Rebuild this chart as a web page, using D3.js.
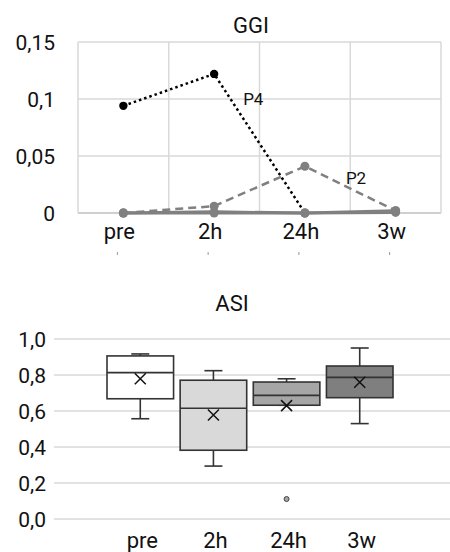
<!DOCTYPE html>
<html>
<head>
<meta charset="utf-8">
<script src="https://cdn.jsdelivr.net/npm/d3@7"></script>
<style>
  body { margin: 0; background: #fff; }
  text { font-family: Roboto, "Liberation Sans", sans-serif; fill: #111; }
</style>
</head>
<body>
<div id="d3-container"></div>
<script>
/**
 * DATA
 * */
const times = ["pre", "2h", "24h", "3w"];

// GGI line chart
const ggiTicks = [0, 0.05, 0.1, 0.15];
const ggiTickLabels = ["0", "0,05", "0,1", "0,15"];
const p4Values = [0.094, 0.122, 0, null];
const p2Values = [0, 0.006, 0.041, 0.002];
const otherA = [0, 0.001, 0, 0.002];
const otherB = [0, 0, 0, 0.0005];

// ASI box plot
const asiTicks = [0, 0.2, 0.4, 0.6, 0.8, 1.0];
const asiTickLabels = ["0,0", "0,2", "0,4", "0,6", "0,8", "1,0"];
const asiMin = [0.557, 0.294, 0.632, 0.530];
const asiQ1 = [0.668, 0.382, 0.632, 0.674];
const asiMedian = [0.813, 0.615, 0.687, 0.787];
const asiQ3 = [0.906, 0.771, 0.761, 0.850];
const asiMax = [0.917, 0.824, 0.779, 0.950];
const asiMean = [0.779, 0.578, 0.630, 0.760];
const asiOutliers = [[], [], [0.111], []];
const boxFills = ["#ffffff", "#d9d9d9", "#a6a6a6", "#7f7f7f"];

/**
 * SETUP
 * */
const width = 450, height = 552;
const svg = d3.select("#d3-container")
  .append("svg")
  .attr("width", width)
  .attr("height", height);

const grid = "#d9d9d9";

// ---------- GGI ----------
const x1 = d3.scaleBand().domain(times).range([78, 441]);
const y1 = d3.scaleLinear().domain([0, 0.15]).range([213, 42]);

const gTop = svg.append("g");

gTop.append("text")
  .attr("x", 251).attr("y", 33)
  .attr("text-anchor", "middle")
  .attr("font-size", 22)
  .text("GGI");

// horizontal gridlines
gTop.selectAll(".hgrid")
  .data(ggiTicks)
  .join("line")
  .attr("x1", 78).attr("x2", 441)
  .attr("y1", d => y1(d)).attr("y2", d => y1(d))
  .attr("stroke", d => d === 0 ? "#bfbfbf" : grid)
  .attr("stroke-width", 1.5);

// vertical gridlines at band edges
const edges = times.map(t => x1(t)).concat([x1.range()[1]]);
gTop.selectAll(".vgrid")
  .data(edges)
  .join("line")
  .attr("x1", d => d).attr("x2", d => d)
  .attr("y1", y1(0.15)).attr("y2", y1(0))
  .attr("stroke", grid)
  .attr("stroke-width", 1.5);

gTop.selectAll(".ylab")
  .data(ggiTicks)
  .join("text")
  .attr("x", 55)
  .attr("y", d => y1(d))
  .attr("dy", "0.36em")
  .attr("text-anchor", "end")
  .attr("font-size", 21)
  .text((d, i) => ggiTickLabels[i]);

const cx1 = t => x1(t) + x1.bandwidth() / 2;

gTop.selectAll(".xlab")
  .data(times)
  .join("text")
  .attr("x", d => cx1(d) - 4)
  .attr("y", 239)
  .attr("text-anchor", "middle")
  .attr("font-size", 22)
  .text(d => d);

// little clipped marks under the labels
gTop.selectAll(".xmark")
  .data(times)
  .join("line")
  .attr("x1", d => cx1(d) - 6).attr("x2", d => cx1(d) - 6)
  .attr("y1", 252).attr("y2", 255)
  .attr("stroke", "#999")
  .attr("stroke-width", 1);

const line1 = d3.line()
  .defined(d => d.v !== null)
  .x(d => cx1(d.t))
  .y(d => y1(d.v));

const series = [
  { values: otherB, color: "#808080", width: 3, dash: null, r: 4.5 },
  { values: otherA, color: "#808080", width: 3, dash: null, r: 4.5 },
  { values: p2Values, color: "#808080", width: 2.5, dash: "8,5", r: 4.5 },
  { values: p4Values, color: "#000", width: 2.5, dash: "2.5,3", r: 4.2 }
];

series.forEach(s => {
  const pts = s.values.map((v, i) => ({ t: times[i], v }));
  gTop.append("path")
    .datum(pts)
    .attr("d", line1)
    .attr("fill", "none")
    .attr("stroke", s.color)
    .attr("stroke-width", s.width)
    .attr("stroke-dasharray", s.dash);
});
// markers
series.forEach(s => {
  const pts = s.values.map((v, i) => ({ t: times[i], v })).filter(d => d.v !== null && !(s.color === "#000" && d.v === 0));
  gTop.selectAll(null)
    .data(pts)
    .join("circle")
    .attr("cx", d => cx1(d.t))
    .attr("cy", d => y1(d.v))
    .attr("r", s.r)
    .attr("fill", s.color);
});
// gray point over the P4 zero at 24h
gTop.append("circle")
  .attr("cx", cx1("24h")).attr("cy", y1(0)).attr("r", 4.5).attr("fill", "#808080");

gTop.append("text")
  .attr("x", cx1("2h") + 29).attr("y", y1(0.1))
  .attr("dy", "0.36em")
  .attr("font-size", 17)
  .text("P4");
gTop.append("text")
  .attr("x", cx1("24h") + 41).attr("y", y1(0.031))
  .attr("dy", "0.36em")
  .attr("font-size", 17)
  .text("P2");

// ---------- ASI ----------
const x2 = d3.scaleBand().domain(times).range([107, 393]).paddingInner(0.09);
const y2 = d3.scaleLinear().domain([0, 1]).range([519, 339]);

const gBottom = svg.append("g");

gBottom.append("text")
  .attr("x", 232).attr("y", 311)
  .attr("text-anchor", "middle")
  .attr("font-size", 22)
  .text("ASI");

gBottom.selectAll(".hgrid")
  .data(asiTicks)
  .join("line")
  .attr("x1", 54).attr("x2", width)
  .attr("y1", d => y2(d)).attr("y2", d => y2(d))
  .attr("stroke", grid)
  .attr("stroke-width", 1.5);

gBottom.selectAll(".ylab")
  .data(asiTicks)
  .join("text")
  .attr("x", 46)
  .attr("y", d => y2(d))
  .attr("dy", "0.36em")
  .attr("text-anchor", "end")
  .attr("font-size", 21)
  .text((d, i) => asiTickLabels[i]);

gBottom.selectAll(".xlab")
  .data(times)
  .join("text")
  .attr("x", d => x2(d) + x2.bandwidth() / 2 + 2)
  .attr("y", 548)
  .attr("text-anchor", "middle")
  .attr("font-size", 22)
  .text(d => d);

const edge = "#333";
const capW = 18;

times.forEach((t, i) => {
  const g = gBottom.append("g");
  const x0 = x2(t), bw = x2.bandwidth(), cx = x0 + bw / 2;

  // whiskers
  g.append("line")
    .attr("x1", cx).attr("x2", cx)
    .attr("y1", y2(asiMax[i])).attr("y2", y2(asiQ3[i]))
    .attr("stroke", edge).attr("stroke-width", 1.6);
  g.append("line")
    .attr("x1", cx).attr("x2", cx)
    .attr("y1", y2(asiQ1[i])).attr("y2", y2(asiMin[i]))
    .attr("stroke", edge).attr("stroke-width", 1.6);
  [asiMax[i], asiMin[i]].forEach(v => {
    g.append("line")
      .attr("x1", cx - capW / 2).attr("x2", cx + capW / 2)
      .attr("y1", y2(v)).attr("y2", y2(v))
      .attr("stroke", edge).attr("stroke-width", 1.6);
  });

  g.append("rect")
    .attr("x", x0).attr("width", bw)
    .attr("y", y2(asiQ3[i]))
    .attr("height", y2(asiQ1[i]) - y2(asiQ3[i]))
    .attr("fill", boxFills[i])
    .attr("stroke", edge).attr("stroke-width", 1.6);

  g.append("line")
    .attr("x1", x0).attr("x2", x0 + bw)
    .attr("y1", y2(asiMedian[i])).attr("y2", y2(asiMedian[i]))
    .attr("stroke", edge).attr("stroke-width", 1.6);

  // mean marker
  const my = y2(asiMean[i]), s = 5.5;
  g.append("path")
    .attr("d", `M${cx - s},${my - s}L${cx + s},${my + s}M${cx - s},${my + s}L${cx + s},${my - s}`)
    .attr("stroke", "#111").attr("stroke-width", 1.5).attr("fill", "none");

  g.selectAll(null)
    .data(asiOutliers[i])
    .join("circle")
    .attr("cx", cx).attr("cy", d => y2(d))
    .attr("r", 2.5)
    .attr("fill", "#a6a6a6")
    .attr("stroke", "#444").attr("stroke-width", 1);
});
</script>
</body>
</html>
